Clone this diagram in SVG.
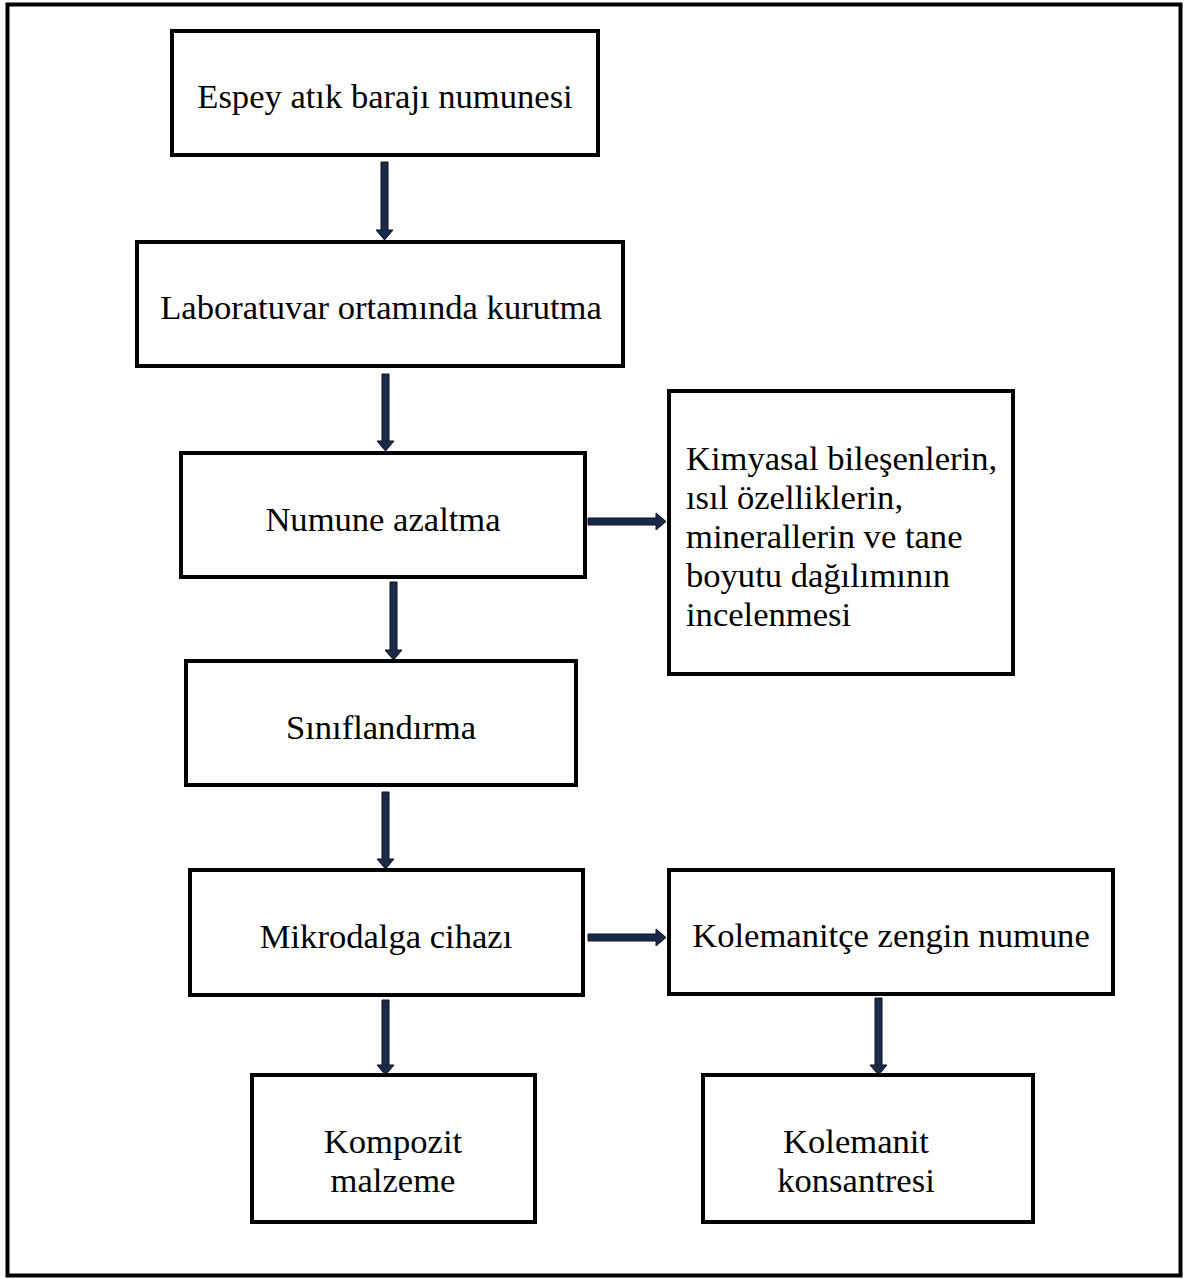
<svg xmlns="http://www.w3.org/2000/svg" width="1185" height="1279" viewBox="0 0 1185 1279">
<style>
.box{fill:#fff;stroke:#000;stroke-width:4}
.t{font-family:"Liberation Serif","Times New Roman",serif;font-size:34.6px;fill:#000}
.c{text-anchor:middle}
.arr{fill:#1c2a4a;stroke:#0a1020;stroke-width:1}
</style>
<rect x="0" y="0" width="1185" height="1279" fill="#fff"/>
<rect x="7.5" y="4.5" width="1173" height="1271" fill="none" stroke="#000" stroke-width="4"/>
<g id="connectors">
<path class="arr" d="M381,162 h7 v68 h5 l-8.5,10 l-8.5,-10 h5 z"/>
<path class="arr" d="M382,374 h7 v67 h5 l-8.5,10 l-8.5,-10 h5 z"/>
<path class="arr" d="M390,582 h7 v68 h5 l-8.5,10 l-8.5,-10 h5 z"/>
<path class="arr" d="M382,792 h7 v67 h5 l-8.5,10 l-8.5,-10 h5 z"/>
<path class="arr" d="M382,1000 h7 v65 h5 l-8.5,10 l-8.5,-10 h5 z"/>
<path class="arr" d="M875,998 h7 v67 h5 l-8.5,10 l-8.5,-10 h5 z"/>
<path class="arr" d="M588,518 h68 v-5 l10,8.5 l-10,8.5 v-5 h-68 z"/>
<path class="arr" d="M588,934 h68 v-5 l10,8.5 l-10,8.5 v-5 h-68 z"/>
</g>
<g id="n1"><rect class="box" x="172" y="31" width="426" height="124"/><text class="t c" x="385" y="108">Espey atık barajı numunesi</text></g>
<g id="n2"><rect class="box" x="137" y="242" width="486" height="124"/><text class="t c" x="381" y="319">Laboratuvar ortamında kurutma</text></g>
<g id="n3"><rect class="box" x="181" y="453" width="404" height="124"/><text class="t c" x="383" y="531">Numune azaltma</text></g>
<g id="n4"><rect class="box" x="669" y="391" width="344" height="283"/><text class="t" x="686" y="470">Kimyasal bileşenlerin,</text><text class="t" x="686" y="509">ısıl özelliklerin,</text><text class="t" x="686" y="548">minerallerin ve tane</text><text class="t" x="686" y="587">boyutu dağılımının</text><text class="t" x="686" y="626">incelenmesi</text></g>
<g id="n5"><rect class="box" x="186" y="661" width="390" height="124"/><text class="t c" x="381" y="739">Sınıflandırma</text></g>
<g id="n6"><rect class="box" x="190" y="870" width="393" height="125"/><text class="t c" x="386" y="948">Mikrodalga cihazı</text></g>
<g id="n7"><rect class="box" x="669" y="870" width="444" height="124"/><text class="t c" x="891" y="947">Kolemanitçe zengin numune</text></g>
<g id="n8"><rect class="box" x="252" y="1075" width="283" height="147"/><text class="t c" x="393" y="1153">Kompozit</text><text class="t c" x="393" y="1192">malzeme</text></g>
<g id="n9"><rect class="box" x="703" y="1075" width="330" height="147"/><text class="t c" x="856" y="1153">Kolemanit</text><text class="t c" x="856" y="1192">konsantresi</text></g>
</svg>
